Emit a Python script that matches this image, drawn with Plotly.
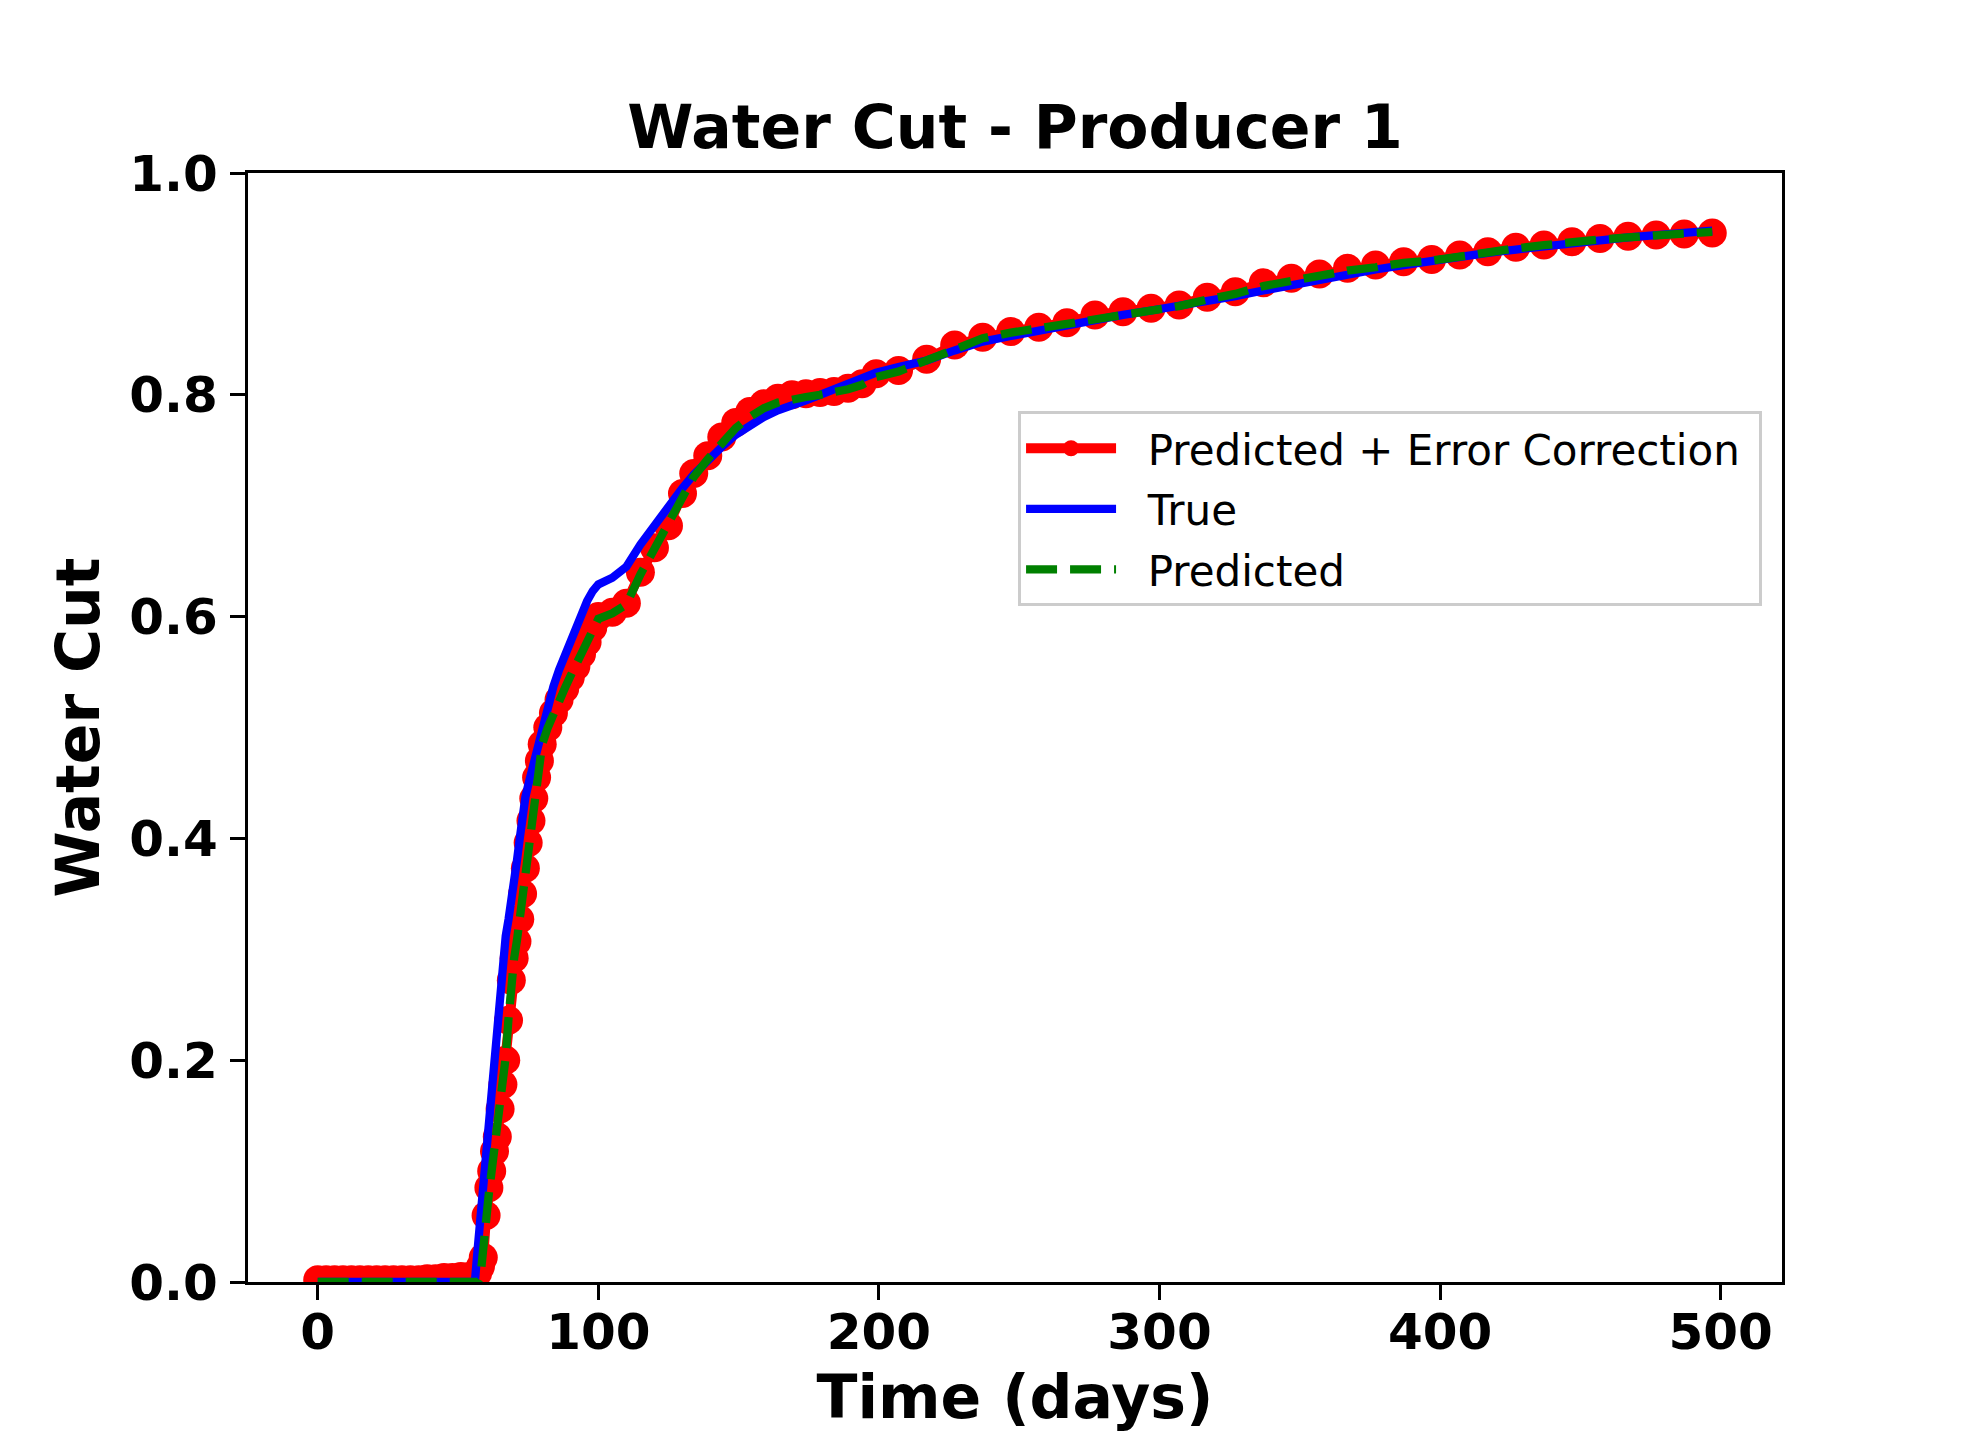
"""Water cut for producer 1: true vs predicted vs predicted + error correction."""
import plotly.graph_objects as go

OUT = "out.html"

DAYS = [
    0, 3, 6, 9, 12, 15, 18, 21, 24, 27, 30, 33, 36, 39, 42, 45, 48, 51, 54, 56,
    57, 58, 59, 60, 61, 62, 63, 64, 65, 66, 67, 68, 69, 70, 71, 72, 73, 74, 75, 76,
    77, 78, 79, 80, 82, 84, 86, 88, 90, 92, 94, 96, 98, 100, 105, 110, 115, 120, 125, 130,
    134, 139, 144, 149, 154, 159, 164, 169, 174, 179, 184, 189, 194, 199, 207,
    217, 227, 237, 247, 257, 267, 277, 287, 297, 307, 317, 327, 337, 347, 357,
    367, 377, 387, 397, 407, 417, 427, 437, 447, 457, 467, 477, 487, 497,
]

PRED_CORRECTED = [
    0.002, 0.002, 0.002, 0.002, 0.002, 0.002, 0.002, 0.002, 0.002, 0.002, 0.002, 0.002, 0.002,
    0.003, 0.003, 0.004, 0.004, 0.005, 0.005, 0.006,
    0.008, 0.014, 0.022, 0.060, 0.085, 0.100, 0.118, 0.131, 0.156, 0.178, 0.200, 0.236,
    0.272, 0.292, 0.307, 0.327, 0.350, 0.373, 0.396, 0.416, 0.436, 0.455, 0.470, 0.485,
    0.500, 0.513, 0.525, 0.535, 0.545, 0.555, 0.566, 0.577, 0.590, 0.600,
    0.604, 0.612, 0.640, 0.662, 0.682, 0.711,
    0.729, 0.745, 0.762, 0.775, 0.785, 0.792, 0.797, 0.800, 0.801, 0.802, 0.803, 0.806,
    0.810, 0.819, 0.822,
    0.832, 0.845, 0.852, 0.857, 0.861, 0.865, 0.872, 0.875, 0.878, 0.881, 0.888, 0.893,
    0.901, 0.905, 0.909, 0.914, 0.917, 0.920, 0.922, 0.926, 0.929, 0.933, 0.935, 0.938,
    0.941, 0.943, 0.944, 0.945, 0.946,
]

TRUE = [
    0.0, 0.0, 0.0, 0.0, 0.0, 0.0, 0.0, 0.0, 0.0, 0.0, 0.0, 0.0, 0.0,
    0.0, 0.0, 0.0, 0.0, 0.0, 0.0, 0.0,
    0.030, 0.060, 0.090, 0.120, 0.150, 0.180, 0.210, 0.240, 0.270, 0.295, 0.312, 0.327,
    0.342, 0.360, 0.380, 0.400, 0.422, 0.437, 0.448, 0.458, 0.468, 0.478, 0.490, 0.500,
    0.518, 0.537, 0.552, 0.565, 0.578, 0.591, 0.603, 0.614, 0.623, 0.629,
    0.635, 0.645, 0.665, 0.683, 0.700, 0.716,
    0.728, 0.741, 0.753, 0.764, 0.773, 0.780, 0.786, 0.790, 0.795, 0.800, 0.805, 0.811,
    0.816, 0.820, 0.825,
    0.831, 0.840, 0.848, 0.853, 0.858, 0.863, 0.868, 0.872, 0.876, 0.880, 0.884, 0.889,
    0.894, 0.899, 0.904, 0.909, 0.913, 0.917, 0.921, 0.925, 0.928, 0.931, 0.934, 0.937,
    0.940, 0.942, 0.944, 0.946, 0.948,
]

PREDICTED = [
    0.0, 0.0, 0.0, 0.0, 0.0, 0.0, 0.0, 0.0, 0.0, 0.0, 0.0, 0.0, 0.0,
    0.0, 0.0, 0.0, 0.0, 0.0, 0.0, 0.0,
    0.0, 0.005, 0.025, 0.055, 0.080, 0.100, 0.118, 0.133, 0.155, 0.178, 0.203, 0.238,
    0.270, 0.292, 0.308, 0.328, 0.350, 0.373, 0.396, 0.416, 0.436, 0.455, 0.470, 0.485,
    0.500, 0.513, 0.525, 0.535, 0.546, 0.556, 0.566, 0.578, 0.590, 0.598,
    0.603, 0.611, 0.638, 0.662, 0.685, 0.709,
    0.726, 0.742, 0.757, 0.770, 0.780, 0.788, 0.793, 0.796, 0.798, 0.800, 0.802, 0.805,
    0.809, 0.816, 0.821,
    0.831, 0.843, 0.851, 0.856, 0.860, 0.864, 0.869, 0.873, 0.877, 0.880, 0.886, 0.891,
    0.898, 0.903, 0.907, 0.912, 0.915, 0.919, 0.921, 0.925, 0.928, 0.932, 0.935, 0.938,
    0.940, 0.942, 0.944, 0.945, 0.947,
]

SERIES_NAMES = ["Predicted + Error Correction", "True", "Predicted"]

FONT = "DejaVu Sans"
BODY_MARGIN = 8  # the page body keeps the browser's default 8px margin
W, H = 1980 - 2 * BODY_MARGIN, 1440 - 2 * BODY_MARGIN
# matplotlib default axes box (0.125..0.9 wide, 0.11..0.88 tall) in window pixels
M_L = 247.5 - BODY_MARGIN
M_R = 1980 - 1782 - BODY_MARGIN
M_T = 173 - BODY_MARGIN
M_B = 1440 - 1281.7 - BODY_MARGIN
NBSP = "\u00a0"  # legend label padding


def main() -> None:
    fig = go.Figure()
    fig.add_trace(go.Scatter(
        x=DAYS, y=PRED_CORRECTED, mode="lines+markers",
        name=NBSP * 2 + SERIES_NAMES[0] + NBSP, legendgroup="a",
        line=dict(color="#ff0000", width=10),
        marker=dict(color="#ff0000", size=29, line=dict(width=0)),
    ))
    fig.add_trace(go.Scatter(
        x=DAYS, y=TRUE, mode="lines",
        name=NBSP * 2 + SERIES_NAMES[1], legendgroup="b",
        line=dict(color="#0000ff", width=8.3),
    ))
    fig.add_trace(go.Scatter(
        x=DAYS, y=PREDICTED, mode="lines",
        name=NBSP * 2 + SERIES_NAMES[2], legendgroup="c",
        line=dict(color="#008000", width=8.3, dash="31px,13px"),
    ))

    # x limits: matplotlib's 5% autoscale margin around the data span
    span = DAYS[-1] - DAYS[0]
    xr = [DAYS[0] - 0.05 * span, DAYS[-1] + 0.05 * span]

    axis_common = dict(
        showline=True, linecolor="black", linewidth=3.3, mirror=True,
        ticks="outside", ticklen=15, tickwidth=3.3, tickcolor="black",
        showgrid=False, zeroline=False, automargin=False,
        tickfont=dict(family=FONT, size=50, color="black", weight="bold"),
    )
    fig.update_xaxes(
        range=xr, dtick=100, tick0=0, ticklabelstandoff=-11,
        title=dict(text="Time (days)", standoff=19,
                   font=dict(family=FONT, size=60, color="black", weight="bold")),
        **axis_common,
    )
    fig.update_yaxes(
        range=[0, 1], dtick=0.2, tick0=0, tickformat=".1f", ticklabelstandoff=2,
        title=dict(text="Water Cut", standoff=11,
                   font=dict(family=FONT, size=60, color="black", weight="bold")),
        **axis_common,
    )

    fig.update_layout(
        width=W, height=H,
        margin=dict(l=M_L, r=M_R, t=M_T, b=M_B, pad=0),
        paper_bgcolor="white", plot_bgcolor="white",
        title=dict(text="Water Cut - Producer 1", x=0.5, xref="paper", xanchor="center",
                   y=1, yref="paper", yanchor="bottom", pad=dict(b=25),
                   font=dict(family=FONT, size=60, color="black", weight="bold")),
        showlegend=True,
        legend=dict(
            x=0.987, xanchor="right", y=0.785, yanchor="top",
            bgcolor="rgba(255,255,255,0.8)", bordercolor="#cccccc", borderwidth=3,
            font=dict(family=FONT, size=42, color="black"),
            traceorder="grouped", tracegroupgap=3, itemwidth=90,
        ),
    )
    fig.write_html(OUT)


if __name__ == "__main__":
    main()
